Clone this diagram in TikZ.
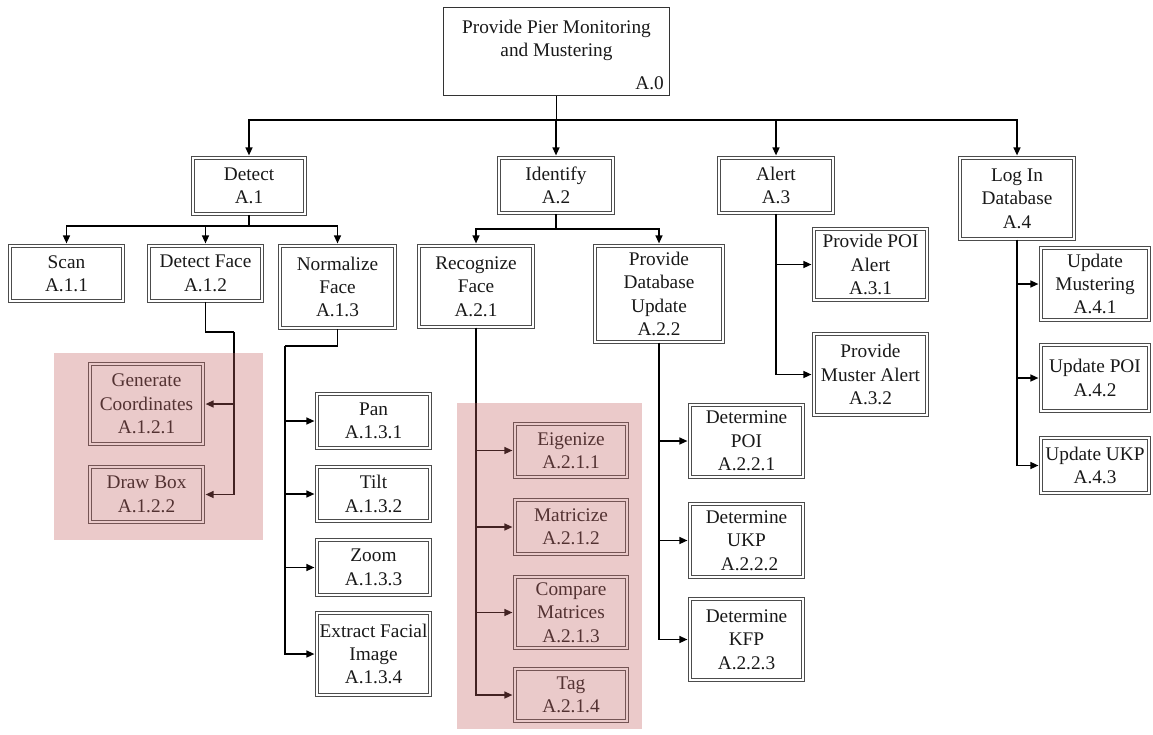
\documentclass[tikz,border=0pt]{standalone}
\usepackage{fontspec}
\setmainfont{Liberation Serif}
\usetikzlibrary{arrows.meta}
\begin{document}
\begin{tikzpicture}[x=1pt,y=-1pt,
  lbl/.style={font=\fontsize{19.3}{23.4}\selectfont, text=black!90, align=center, inner sep=0pt},
  box/.style={lbl, draw=black!70, line width=1.2pt, double=white, double distance=1.5pt, fill=white},
  topbox/.style={draw=black!80, line width=1.3pt, fill=white, inner sep=0pt},
  conn/.style={draw=black, line width=1.4pt},
  arr/.style={conn, -{Triangle[length=8pt,width=7pt]}, shorten >=1.8pt},
  shade/.style={fill={rgb,255:red,195;green,100;blue,100}, fill opacity=0.34}
]
\useasboundingbox (0,0) rectangle (1153,734);

% root
\node[topbox, minimum width=225.8pt, minimum height=87.8pt] (a0) at (556.5,51.5) {};
\node[lbl] (a0t) at (556.5,40.5) {Provide Pier Monitoring\\and Mustering};
\node[lbl, anchor=east] (a0n) at (664,83) {A.0};

% first level
\node[box, minimum width=112.4pt, minimum height=56.4pt] (a1) at (249,186) {Detect\\A.1};
\node[box, minimum width=114.4pt, minimum height=55.4pt] (a2) at (556,185.5) {Identify\\A.2};
\node[box, minimum width=114.4pt, minimum height=55.4pt] (a3) at (776,185.5) {Alert\\A.3};
\node[box, minimum width=114.4pt, minimum height=81.4pt] (a4) at (1017,198.5) {Log In\\Database\\A.4};

% Detect
\node[box, minimum width=113.4pt, minimum height=55.4pt] (a11) at (66.5,273.5) {Scan\\A.1.1};
\node[box, minimum width=113.4pt, minimum height=55.4pt] (a12) at (205.5,273.5) {Detect Face\\A.1.2};
\node[box, minimum width=115.4pt, minimum height=82.4pt] (a13) at (337.5,287) {Normalize\\Face\\A.1.3};
\node[box, minimum width=113.4pt, minimum height=80.4pt] (a121) at (146.5,404) {Generate\\Coordinates\\A.1.2.1};
\node[box, minimum width=113.4pt, minimum height=55.4pt] (a122) at (146.5,494.5) {Draw Box\\A.1.2.2};
\node[box, minimum width=113.4pt, minimum height=54.4pt] (a131) at (373.5,421) {Pan\\A.1.3.1};
\node[box, minimum width=113.4pt, minimum height=54.4pt] (a132) at (373.5,494) {Tilt\\A.1.3.2};
\node[box, minimum width=113.4pt, minimum height=55.4pt] (a133) at (373.5,567.5) {Zoom\\A.1.3.3};
\node[box, minimum width=113.4pt, minimum height=82.4pt] (a134) at (373.5,654) {Extract Facial\\Image\\A.1.3.4};

% Identify
\node[box, minimum width=114.4pt, minimum height=81.4pt] (a21) at (476,286.5) {Recognize\\Face\\A.2.1};
\node[box, minimum width=128.4pt, minimum height=96.4pt] (a22) at (659,294) {Provide\\Database\\Update\\A.2.2};
\node[box, minimum width=112.4pt, minimum height=53.4pt] (a211) at (571,450.5) {Eigenize\\A.2.1.1};
\node[box, minimum width=112.4pt, minimum height=54.4pt] (a212) at (571,527) {Matricize\\A.2.1.2};
\node[box, minimum width=112.4pt, minimum height=71.4pt] (a213) at (571,612.5) {Compare\\Matrices\\A.2.1.3};
\node[box, minimum width=112.4pt, minimum height=52.4pt] (a214) at (571,695) {Tag\\A.2.1.4};
\node[box, minimum width=113.4pt, minimum height=72.4pt] (a221) at (746.5,441) {Determine\\POI\\A.2.2.1};
\node[box, minimum width=113.4pt, minimum height=73.4pt] (a222) at (746.5,540.5) {Determine\\UKP\\\hspace*{6pt}A.2.2.2};
\node[box, minimum width=113.4pt, minimum height=81.4pt] (a223) at (746.5,639.5) {Determine\\KFP\\A.2.2.3};

% Alert
\node[box, minimum width=113.4pt, minimum height=71.4pt] (a31) at (870.5,264.5) {Provide POI\\Alert\\A.3.1};
\node[box, minimum width=113.4pt, minimum height=81.4pt] (a32) at (870.5,374.5) {Provide\\Muster Alert\\A.3.2};

% Log In Database
\node[box, minimum width=108.4pt, minimum height=72.4pt] (a41) at (1095,284) {Update\\Mustering\\A.4.1};
\node[box, minimum width=108.4pt, minimum height=66.4pt] (a42) at (1095,378) {Update POI\\A.4.2};
\node[box, minimum width=108.4pt, minimum height=55.4pt] (a43) at (1095,465.5) {Update UKP\\A.4.3};

% junction points
\coordinate (j0) at (556.5,120);
\coordinate (j1) at (249,226);
\coordinate (j2) at (556,229);
\coordinate (k12) at (234,332);
\coordinate (k13) at (285,346);

% root to first level
\draw[conn] (a0.south) -- (j0);
\draw[arr] (j0) -| (a1.north);
\draw[arr] (j0) -| (a2.north);
\draw[arr] (j0) -| (a3.north);
\draw[arr] (j0) -| (a4.north);

% Detect branch
\draw[conn] (a1.south) -- (j1);
\draw[arr] (j1) -| (a11.north);
\draw[arr] (j1) -| (a12.north);
\draw[arr] (j1) -| (a13.north);
\draw[conn] (a12.south) |- (k12);
\draw[arr] (k12) |- (a121.east);
\draw[arr] (k12) |- (a122.east);
\draw[conn] (a13.south) |- (k13);
\draw[arr] (k13) |- (a131.west);
\draw[arr] (k13) |- (a132.west);
\draw[arr] (k13) |- (a133.west);
\draw[arr] (k13) |- (a134.west);

% Identify branch
\draw[conn] (a2.south) -- (j2);
\draw[arr] (j2) -| (a21.north);
\draw[arr] (j2) -| (a22.north);
\draw[arr] (a21.south) |- (a211.west);
\draw[arr] (a21.south) |- (a212.west);
\draw[arr] (a21.south) |- (a213.west);
\draw[arr] (a21.south) |- (a214.west);
\draw[arr] (a22.south) |- (a221.west);
\draw[arr] (a22.south) |- (a222.west);
\draw[arr] (a22.south) |- (a223.west);

% Alert branch
\draw[arr] (a3.south) |- (a31.west);
\draw[arr] (a3.south) |- (a32.west);

% Log In Database branch
\draw[arr] (a4.south) |- (a41.west);
\draw[arr] (a4.south) |- (a42.west);
\draw[arr] (a4.south) |- (a43.west);

% shaded groups
\fill[shade] (54,353) rectangle (263,540);
\fill[shade] (457,403) rectangle (642,729);
\end{tikzpicture}
\end{document}
